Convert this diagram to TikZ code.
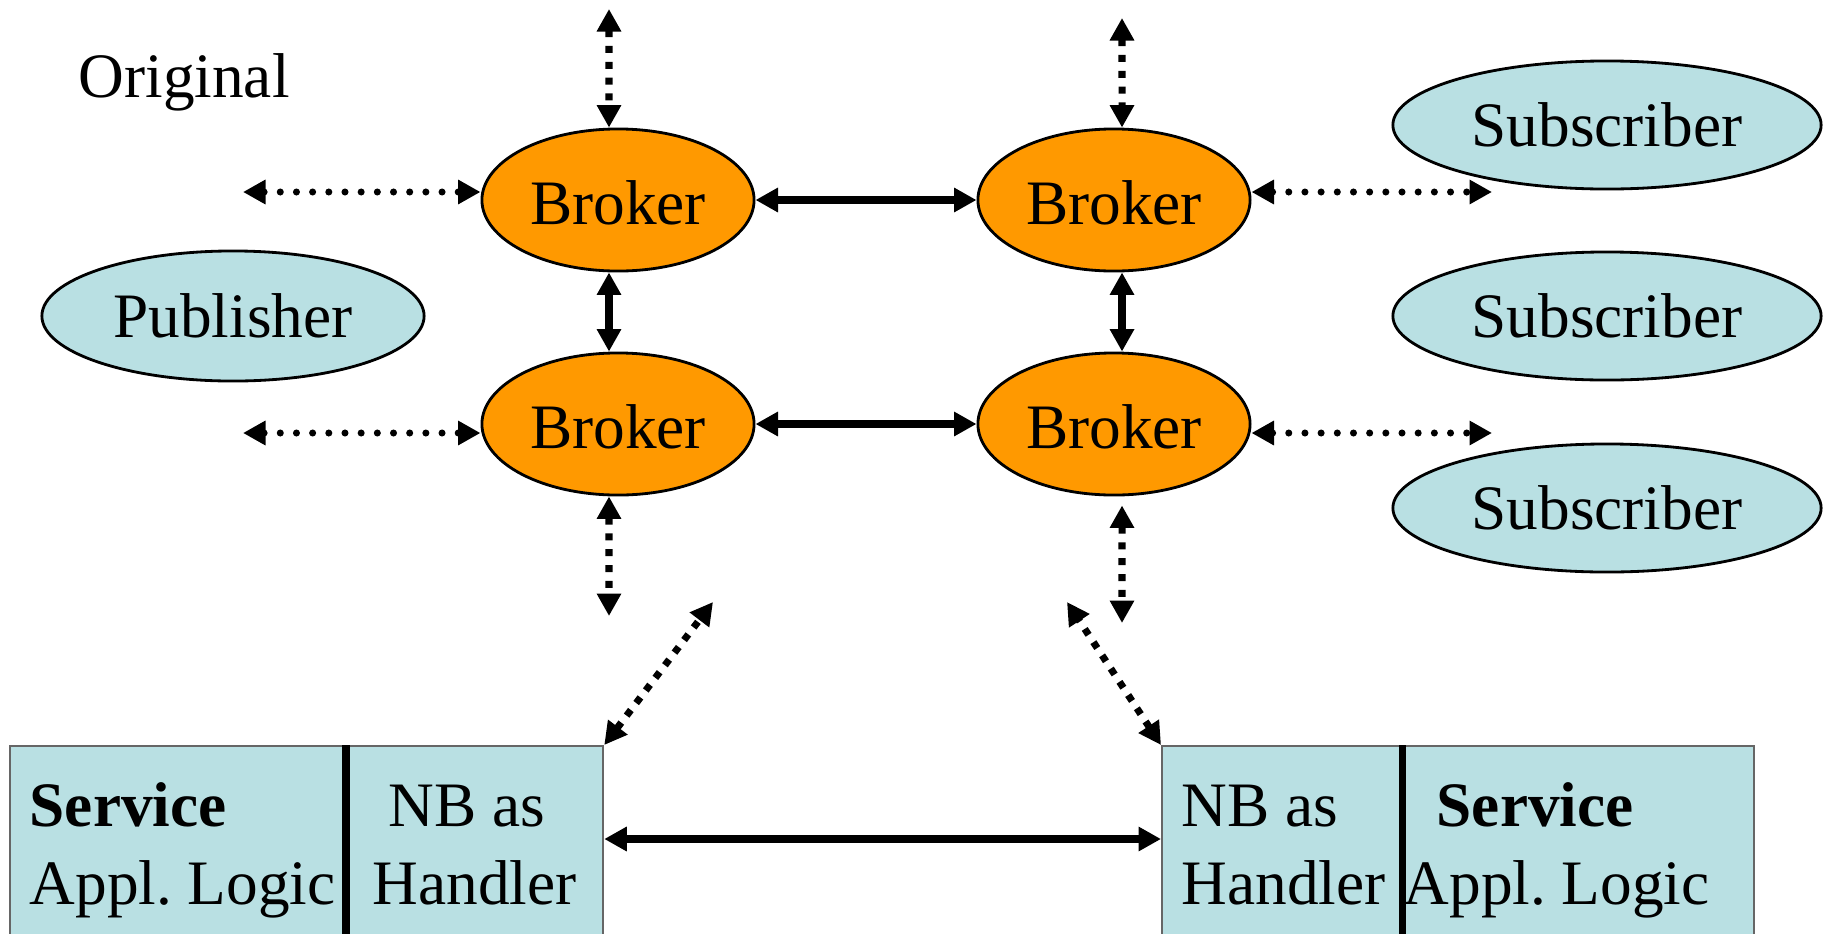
\documentclass[tikz,border=0pt]{standalone}
\usepackage{fontspec}
\setmainfont{Liberation Serif}
\usetikzlibrary{arrows.meta,shapes.geometric}

\definecolor{brokerorange}{RGB}{255,153,0}
\definecolor{clientblue}{RGB}{185,224,227}

\tikzset{
  broker/.style={draw,ellipse,fill=brokerorange,minimum width=2.72cm,minimum height=1.42cm,inner sep=0pt,line width=0.8pt,text height=14pt},
  client/.style={draw,ellipse,fill=clientblue,minimum width=4.28cm,minimum height=1.28cm,inner sep=0pt,line width=0.8pt},
  cell/.style={draw=black!60,fill=clientblue,rectangle,anchor=north west,inner sep=0pt,line width=0.6pt,minimum height=2.3cm},
  link/.style={{Triangle[length=6.4pt,width=6.6pt]}-{Triangle[length=6.4pt,width=6.6pt]},line width=2.3pt},
  dotlink/.style={link,line cap=round,dash pattern=on 0pt off 4.6pt,line width=2pt},
  dashlink/.style={link,dash pattern=on 2pt off 2.5pt,line width=2pt},
  txt/.style={anchor=base west,inner sep=0pt}
}

\begin{document}
\begin{tikzpicture}[x=0.01cm,y=-0.01cm,font=\fontsize{18}{22}\selectfont]
\useasboundingbox (0,0) rectangle (1833,933);
\clip (0,0) rectangle (1833,933);

\node[txt] (orig) at (78,97) {Original};

% brokers
\node[broker] (tl) at (618,200) {Broker};
\node[broker] (tr) at (1114,200) {Broker};
\node[broker] (bl) at (618,424) {Broker};
\node[broker] (br) at (1114,424) {Broker};

% clients
\node[client,minimum width=3.82cm,minimum height=1.3cm] (pub) at (233,316) {Publisher};
\node[client] (sub1) at (1607,125) {Subscriber};
\node[client] (sub2) at (1607,316) {Subscriber};
\node[client] (sub3) at (1607,508) {Subscriber};

% broker mesh
\draw[link] (tl.east) -- (tr.west);
\draw[link] (bl.east) -- (br.west);
\draw[link] ([xshift=-0.09cm]tl.south) -- ([xshift=-0.09cm]bl.north);
\draw[link] ([xshift=0.08cm]tr.south) -- ([xshift=0.08cm]br.north);

% open ends
\coordinate (tlw) at (243,192);
\coordinate (blw) at (243,433);
\coordinate (tre) at (1492,192);
\coordinate (bre) at (1492,433);
\coordinate (tln) at (609,9);
\coordinate (trn) at (1122,18);
\coordinate (bls) at (609,616);
\coordinate (brs) at (1122,623);
\coordinate (diagL) at (713,602);
\coordinate (diagR) at (1067,602);
\coordinate (midline) at (0,839);

\draw[dotlink] (tlw) -- ([yshift=0.08cm]tl.west);
\draw[dotlink] (blw) -- ([yshift=-0.09cm]bl.west);
\draw[dotlink] ([yshift=0.08cm]tr.east) -- (tre);
\draw[dotlink] ([yshift=-0.09cm]br.east) -- (bre);

\draw[dashlink] (tln) -- ([xshift=-0.09cm]tl.north);
\draw[dashlink] (trn) -- ([xshift=0.08cm]tr.north);
\draw[dashlink] ([xshift=-0.09cm]bl.south) -- (bls);
\draw[dashlink,shorten <=0.09cm] ([xshift=0.08cm]br.south) -- (brs);

% services
\node[cell,minimum width=3.37cm] (svcL) at (9,745) {};
\node[cell,minimum width=2.56cm] (hdlL) at (346,745) {};
\node[cell,minimum width=2.41cm] (hdlR) at (1161,745) {};
\node[cell,minimum width=3.51cm] (svcR) at (1402,745) {};
\draw[line width=2pt] (hdlL.north west) -- (hdlL.south west);
\draw[line width=2pt] (svcR.north west) -- (svcR.south west);

\node[txt] (svcLa) at (29,826) {\textbf{Service}};
\node[txt] (svcLb) at (29,904) {Appl.\ Logic};
\node[txt] (hdlLa) at (388,826) {NB as};
\node[txt] (hdlLb) at (372,904) {Handler};
\node[txt] (hdlRa) at (1181,826) {NB as};
\node[txt] (hdlRb) at (1181,904) {Handler};
\node[txt] (svcRa) at (1436,826) {\textbf{Service}};
\node[txt] (svcRb) at (1403,904) {Appl.\ Logic};

\draw[dashlink] (hdlL.north east) -- (diagL);
\draw[dashlink] (hdlR.north west) -- (diagR);
\draw[link] (hdlL.north east |- midline) -- (hdlR.north west |- midline);
\end{tikzpicture}
\end{document}
